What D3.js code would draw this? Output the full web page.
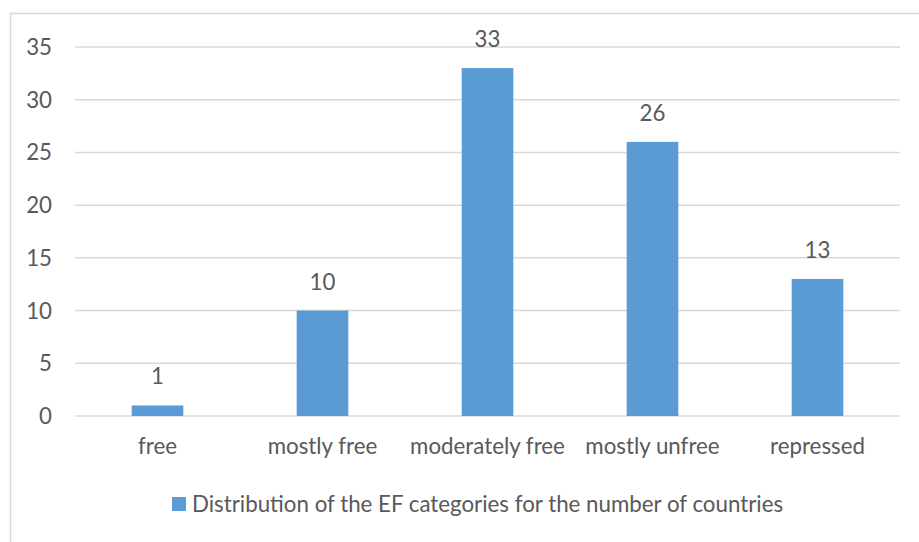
<!DOCTYPE html>
<html lang="en">
<head>
    <meta charset="UTF-8">
    <title>EF categories</title>
    <script src="https://cdn.jsdelivr.net/npm/d3@7"></script>
    <style>
        body { margin: 0; background: #fff; }
        text { font-family: Lato, "Open Sans", sans-serif; fill: #595959; }
    </style>
</head>
<body>
    <div id="chart"></div>

    <script>
        const categories = ["free", "mostly free", "moderately free", "mostly unfree", "repressed"];
        const counts = [1, 10, 33, 26, 13];
        const yTicks = [0, 5, 10, 15, 20, 25, 30, 35];
        const seriesName = "Distribution of the EF categories for the number of countries";

        const width = 919;
        const height = 542;
        const marginTop = 47;
        const marginRight = 19;
        const marginLeft = 75;
        const fontSize = 22.3;

        const svg = d3.select("#chart").append("svg")
            .attr("width", width)
            .attr("height", height);

        // chart frame (right and bottom edges fall outside the picture)
        svg.append("rect")
            .attr("x", 10.5)
            .attr("y", 13.5)
            .attr("width", 940)
            .attr("height", 560)
            .attr("fill", "none")
            .attr("stroke", "#d9d9d9")
            .attr("stroke-width", 1.5);

        const x = d3.scaleBand()
            .domain(categories)
            .range([marginLeft, width - marginRight])
            .paddingInner(0.687)
            .paddingOuter(0.3435);

        const y = d3.scaleLinear()
            .domain([0, 35])
            .range([416, marginTop]);

        // gridlines
        svg.append("g")
            .selectAll("line")
            .data(yTicks)
            .join("line")
            .attr("x1", marginLeft)
            .attr("x2", width - marginRight)
            .attr("y1", d => y(d))
            .attr("y2", d => y(d))
            .attr("stroke", "#d9d9d9")
            .attr("stroke-width", 1.5);

        // y labels
        svg.append("g")
            .selectAll("text")
            .data(yTicks)
            .join("text")
            .attr("x", 52)
            .attr("y", d => y(d))
            .attr("dy", "0.36em")
            .attr("text-anchor", "end")
            .attr("font-size", fontSize)
            .text(d => d);

        const data = categories.map((c, i) => ({cat: c, value: counts[i]}));

        svg.append("g")
            .attr("fill", "#5b9bd5")
            .selectAll("rect")
            .data(data)
            .join("rect")
            .attr("x", d => x(d.cat))
            .attr("y", d => y(d.value))
            .attr("width", x.bandwidth())
            .attr("height", d => y(0) - y(d.value));

        // value labels
        svg.append("g")
            .selectAll("text")
            .data(data)
            .join("text")
            .attr("x", d => x(d.cat) + x.bandwidth() / 2)
            .attr("y", d => y(d.value) - 21)
            .attr("text-anchor", "middle")
            .attr("font-size", fontSize)
            .text(d => d.value);

        // category labels
        svg.append("g")
            .selectAll("text")
            .data(categories)
            .join("text")
            .attr("x", d => x(d) + x.bandwidth() / 2)
            .attr("y", 454)
            .attr("text-anchor", "middle")
            .attr("font-size", fontSize)
            .text(d => d);

        // legend
        const legend = svg.append("g");
        legend.append("rect")
            .attr("x", 172)
            .attr("y", 497)
            .attr("width", 14)
            .attr("height", 14)
            .attr("fill", "#5b9bd5");
        legend.append("text")
            .attr("x", 192)
            .attr("y", 512)
            .attr("font-size", fontSize)
            .text(seriesName);
    </script>
</body>
</html>
